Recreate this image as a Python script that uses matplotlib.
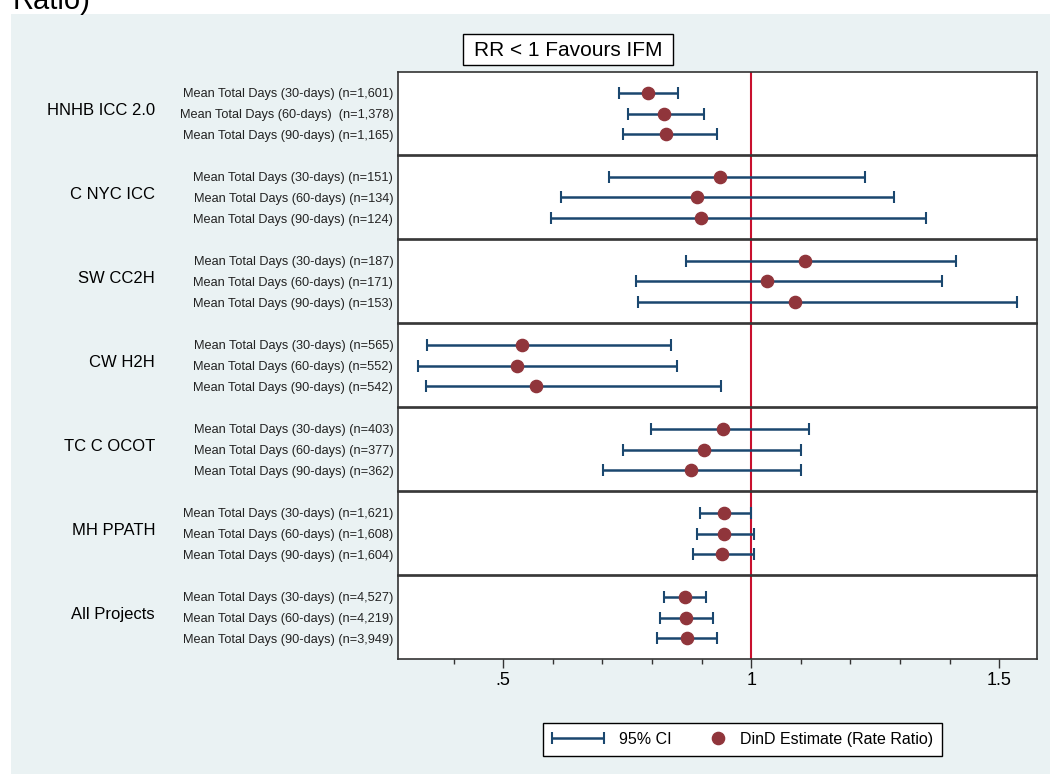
import matplotlib
matplotlib.use("Agg")
import matplotlib.pyplot as plt
import numpy as np
from matplotlib.patches import Rectangle
from matplotlib.lines import Line2D
from matplotlib.container import ErrorbarContainer
from matplotlib.legend_handler import HandlerErrorbar, HandlerBase
from matplotlib.ticker import FixedLocator

plt.rcParams['font.family'] = ['Liberation Sans', 'DejaVu Sans']

# groups and rows
groups = ["HNHB ICC 2.0", "C NYC ICC", "SW CC2H", "CW H2H", "TC C OCOT", "MH PPATH", "All Projects"]
row_labels = [
    ["Mean Total Days (30-days) (n=1,601)", "Mean Total Days (60-days)  (n=1,378)", "Mean Total Days (90-days) (n=1,165)"],
    ["Mean Total Days (30-days) (n=151)", "Mean Total Days (60-days) (n=134)", "Mean Total Days (90-days) (n=124)"],
    ["Mean Total Days (30-days) (n=187)", "Mean Total Days (60-days) (n=171)", "Mean Total Days (90-days) (n=153)"],
    ["Mean Total Days (30-days) (n=565)", "Mean Total Days (60-days) (n=552)", "Mean Total Days (90-days) (n=542)"],
    ["Mean Total Days (30-days) (n=403)", "Mean Total Days (60-days) (n=377)", "Mean Total Days (90-days) (n=362)"],
    ["Mean Total Days (30-days) (n=1,621)", "Mean Total Days (60-days) (n=1,608)", "Mean Total Days (90-days) (n=1,604)"],
    ["Mean Total Days (30-days) (n=4,527)", "Mean Total Days (60-days) (n=4,219)", "Mean Total Days (90-days) (n=3,949)"],
]

# rate ratio estimates and 95% CI
est = [[0.792, 0.824, 0.829], [0.937, 0.890, 0.899], [1.108, 1.031, 1.088], [0.538, 0.528, 0.567],
       [0.944, 0.904, 0.879], [0.946, 0.946, 0.942], [0.866, 0.869, 0.870]]
lo = [[0.734, 0.752, 0.741], [0.714, 0.616, 0.596], [0.869, 0.767, 0.771], [0.346, 0.328, 0.344],
      [0.798, 0.742, 0.702], [0.896, 0.890, 0.882], [0.824, 0.816, 0.811]]
hi = [[0.853, 0.905, 0.930], [1.230, 1.288, 1.353], [1.412, 1.384, 1.536], [0.838, 0.850, 0.939],
      [1.117, 1.100, 1.100], [0.999, 1.005, 1.005], [0.909, 0.923, 0.932]]

xticks = [0.5, 1.0, 1.5]
xticklabels = [".5", "1", "1.5"]
xminor = [0.4, 0.6, 0.7, 0.8, 0.9, 1.1, 1.2, 1.3, 1.4]

navy = "#1A476F"
maroon = "#90353B"
red = "#C8102E"
bg = "#EAF2F3"
W, H = 1050, 774


class DotHandler(HandlerBase):
    # put the dot near the right end of the handle box, like Stata does
    def create_artists(self, legend, orig_handle, xdescent, ydescent, width, height, fontsize, trans):
        m = Line2D([width * 0.87 - xdescent], [height / 2 - ydescent], marker="o", linestyle="none",
                   color=orig_handle.get_color(), markersize=orig_handle.get_markersize(),
                   transform=trans)
        return [m]


fig = plt.figure(figsize=(10.5, 7.74), dpi=100)
fig.patch.set_facecolor("white")
fig.patches.append(Rectangle((11 / W, 0), 1, 1 - 14 / H, transform=fig.transFigure,
                             facecolor=bg, edgecolor="none", zorder=-5))

# cut-off title line at the very top
fig.text(13 / W, 1 - 9 / H, "Ratio)", fontsize=21, va="baseline", ha="left")

left, right = 397.5, 1036.5
rows = np.array([1, 2, 3])
for i, g in enumerate(groups):
    top = 72 + 84 * i
    ax = fig.add_axes([left / W, 1 - (top + 83) / H, (right - left) / W, 83 / H])
    ax.set_facecolor("white")
    e = np.array(est[i]); l = np.array(lo[i]); h = np.array(hi[i])
    eb = ax.errorbar(e, rows, xerr=[e - l, h - e], fmt="none", ecolor=navy,
                     elinewidth=1.8, capsize=4.5, capthick=1.5, zorder=2)
    dots, = ax.plot(e, rows, "o", color=maroon, ms=8.8, mec=maroon, zorder=3)
    ax.axvline(1, color=red, lw=1.5, zorder=1)
    ax.set_xlim(0.287, 1.575)
    ax.set_ylim(4.0, 0.0)
    ax.set_yticks(rows)
    ax.set_yticklabels(row_labels[i], fontsize=9.2, color="#222222")
    ax.tick_params(axis="y", length=0, pad=3)
    for s in ax.spines.values():
        s.set_linewidth(1.2)
        s.set_color("#333333")
    ax.text(155 / W, 1.85, g, transform=matplotlib.transforms.blended_transform_factory(fig.transFigure, ax.transData),
            ha="right", va="center", fontsize=12)
    if i < len(groups) - 1:
        ax.tick_params(axis="x", bottom=False, labelbottom=False, which="both")
    else:
        ax.xaxis.set_major_locator(FixedLocator(xticks))
        ax.set_xticklabels(xticklabels)
        ax.xaxis.set_minor_locator(FixedLocator(xminor))
        ax.tick_params(axis="x", which="major", length=6.5, width=1, labelsize=13, pad=3, color="#333333")
        ax.tick_params(axis="x", which="minor", length=3.6, width=1, color="#333333")
    if i == 0:
        err_handle, dot_handle = eb, dots

# subtitle box
fig.patches.append(Rectangle((463 / W, 1 - 65 / H), 210 / W, 31 / H, transform=fig.transFigure,
                             facecolor="white", edgecolor="black", lw=1, zorder=1))
fig.text(568 / W, 1 - 50 / H, "RR < 1 Favours IFM", ha="center", va="center", fontsize=15, zorder=2)

leg = fig.legend([err_handle, dot_handle], ["95% CI", "DinD Estimate (Rate Ratio)"],
                 loc="center", bbox_to_anchor=(742.5 / W, 1 - 739.5 / H), ncol=2,
                 fontsize=11.5, frameon=True, fancybox=False, edgecolor="black", framealpha=1,
                 handlelength=3.25, columnspacing=0.1, handletextpad=0.95, borderpad=0.55,
                 handler_map={ErrorbarContainer: HandlerErrorbar(xerr_size=1.62),
                              Line2D: DotHandler()})
leg.get_frame().set_linewidth(1)

fig.savefig("out.png", dpi=100)
